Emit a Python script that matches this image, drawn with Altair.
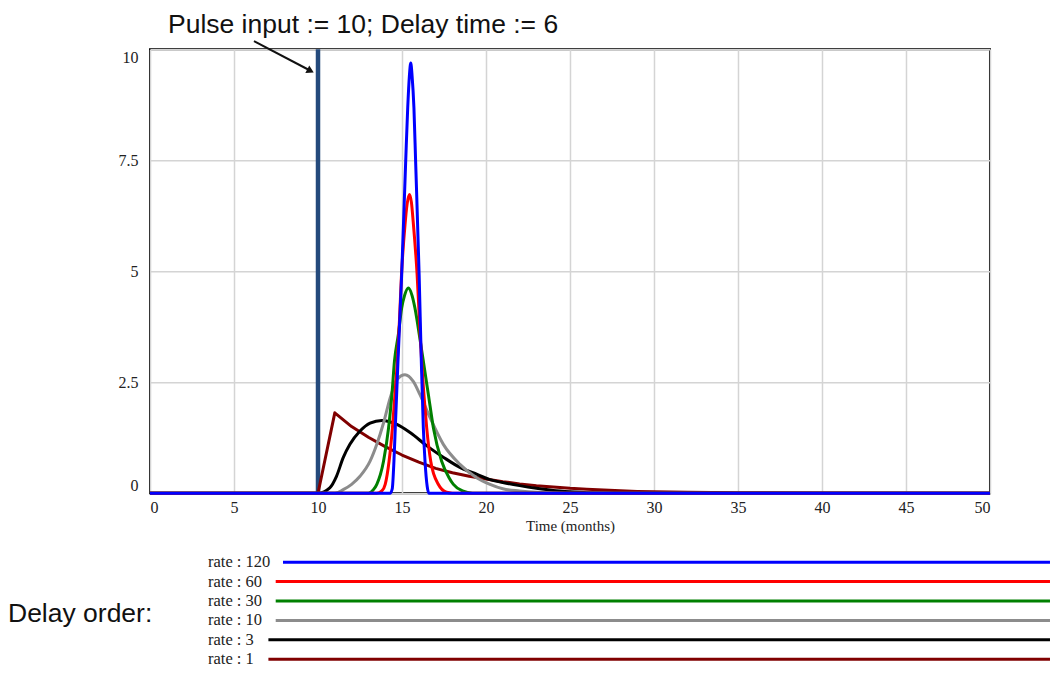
import altair as alt
import pandas as pd

# ---------------- data ----------------
series_names = ["rate : 1", "rate : 3", "rate : 10", "rate : 30", "rate : 60", "rate : 120"]
series_colors = ["#800000", "#000000", "#8c8c8c", "#008000", "#ff0000", "#0000ff"]

rate1_t = [0, 10, 11, 12, 13, 14, 15, 16, 17, 18, 19, 20, 21, 22, 23, 24, 25, 26, 27, 28, 29, 30, 32, 35, 40, 50]
rate1_v = [0, 0, 1.81, 1.50, 1.26, 1.05, 0.86, 0.70, 0.56, 0.46, 0.38, 0.32, 0.26, 0.21, 0.17, 0.14, 0.11, 0.09, 0.07, 0.055, 0.04, 0.03, 0.02, 0.01, 0.004, 0]

rate3_t = [0, 10, 10.7, 11.1, 11.5, 11.9, 12.5, 13.1, 13.8, 14.7, 15.5, 16.5, 17.5, 18.5, 19.5, 20.2, 21, 22, 23, 24, 25, 26, 28, 50]
rate3_v = [0, 0, 0.12, 0.38, 0.80, 1.10, 1.40, 1.58, 1.64, 1.55, 1.36, 1.06, 0.80, 0.57, 0.42, 0.31, 0.24, 0.17, 0.11, 0.06, 0.03, 0.01, 0, 0]

rate10_t = [0, 11, 11.5, 12, 12.5, 13.1, 13.5, 13.9, 14.3, 14.7, 15.18, 15.67, 16.07, 16.67, 17.46, 18.45, 19.44, 20.24, 21, 22, 23, 24, 25, 50]
rate10_v = [0, 0, 0.08, 0.2, 0.38, 0.72, 1.10, 1.58, 2.15, 2.56, 2.67, 2.52, 2.22, 1.70, 1.10, 0.65, 0.35, 0.2, 0.1, 0.05, 0.02, 0.01, 0, 0]

rate30_t = [0, 13.0, 13.3, 13.5, 13.9, 14.2, 14.4, 14.55, 14.78, 14.98, 15.15, 15.38, 15.6, 15.77, 16.03, 16.27, 16.57, 16.87, 17.36, 17.8, 18.06, 18.6, 19.2, 50]
rate30_v = [0, 0, 0.08, 0.2, 0.72, 1.47, 2.22, 2.97, 3.57, 4.17, 4.45, 4.62, 4.45, 4.17, 3.57, 2.97, 2.22, 1.47, 0.72, 0.35, 0.2, 0.05, 0, 0]

rate60_t = [0, 13.5, 13.8, 14.0, 14.23, 14.43, 14.58, 14.72, 14.85, 14.97, 15.18, 15.3, 15.44, 15.56, 15.67, 15.9, 16.05, 16.17, 16.33, 16.47, 16.71, 17.16, 17.65, 18, 50]
rate60_v = [0, 0, 0.05, 0.2, 0.72, 1.47, 2.22, 2.97, 3.9, 4.92, 6.05, 6.5, 6.73, 6.55, 6.1, 4.92, 3.8, 2.97, 2.1, 1.47, 0.72, 0.2, 0.02, 0, 0]

rate120_t = [0, 14.3, 14.42, 14.52, 14.6, 14.76, 14.98, 15.22, 15.34, 15.44, 15.52, 15.6, 15.71, 15.81, 16.02, 16.15, 16.27, 16.37, 16.5, 16.6, 50]
rate120_v = [0, 0, 0.1, 0.72, 1.47, 2.97, 4.92, 7.48, 8.68, 9.4, 9.69, 9.4, 8.68, 7.48, 4.92, 2.97, 1.47, 0.72, 0.15, 0, 0]

pulse_time = [10]
pulse_height = [10]

x_ticks = [0, 5, 10, 15, 20, 25, 30, 35, 40, 45, 50]
y_ticks = [0, 2.5, 5, 7.5, 10]

title_text = "Pulse input := 10; Delay time := 6"
legend_title = "Delay order:"
legend_order = ["rate : 120", "rate : 60", "rate : 30", "rate : 10", "rate : 3", "rate : 1"]

# ---------------- layout helpers ----------------
W, H = 840, 444
X_MAX, Y_MAX = 50.0, 10.0


def px_t(px):  # horizontal pixel offset from plot left -> time value
    return px / W * X_MAX


def px_v(py):  # vertical pixel offset from plot top -> value
    return (H - py) / H * Y_MAX


x_scale = alt.Scale(domain=[0, 50], nice=False, zero=False)
y_scale = alt.Scale(domain=[0, 10], nice=False, zero=False)
color_scale = alt.Scale(domain=series_names, range=series_colors)

SERIF = "Liberation Serif"
SANS = "Liberation Sans"

x_axis = alt.Axis(values=x_ticks, title="Time (months)", grid=True, ticks=False, tickSize=0,
                  domain=False, labelFont=SERIF, labelFontSize=16, labelPadding=6,
                  labelColor="#222222", titleFont=SERIF, titleFontSize=15,
                  titleFontWeight="normal", titleColor="#222222", titlePadding=3,
                  gridColor="#d4d4d4", gridWidth=1.5)
y_axis = alt.Axis(values=y_ticks, format=".1~f", title=None, grid=True, ticks=False, tickSize=0,
                  domain=False, labelFont=SERIF, labelFontSize=16, labelPadding=12,
                  labelColor="#222222", labelFlush=True, gridColor="#d4d4d4", gridWidth=1.5)

series_data = {
    "rate : 1": (rate1_t, rate1_v),
    "rate : 3": (rate3_t, rate3_v),
    "rate : 10": (rate10_t, rate10_v),
    "rate : 30": (rate30_t, rate30_v),
    "rate : 60": (rate60_t, rate60_v),
    "rate : 120": (rate120_t, rate120_v),
}

layers = []

# axes / grid carrier
base_df = pd.DataFrame({"time": [0, 50], "value": [0, 0]})
layers.append(
    alt.Chart(base_df).mark_point(opacity=0).encode(
        x=alt.X("time:Q", scale=x_scale, axis=x_axis),
        y=alt.Y("value:Q", scale=y_scale, axis=y_axis),
    )
)

# pulse
pulse_df = pd.DataFrame({"time": pulse_time, "height": pulse_height, "zero": [0] * len(pulse_time)})
layers.append(
    alt.Chart(pulse_df).mark_rule(color="#244a7c", strokeWidth=4.5).encode(
        x=alt.X("time:Q", scale=x_scale),
        y=alt.Y("zero:Q", scale=y_scale),
        y2="height:Q",
    )
)

# curves
for name in series_names:
    t, v = series_data[name]
    df = pd.DataFrame({"time": t, "value": v, "series": name})
    interp = "linear" if name == "rate : 1" else "monotone"
    layers.append(
        alt.Chart(df).mark_line(strokeWidth=3, interpolate=interp, strokeJoin="round").encode(
            x=alt.X("time:Q", scale=x_scale),
            y=alt.Y("value:Q", scale=y_scale),
            color=alt.Color("series:N", scale=color_scale, legend=None),
        )
    )

# annotation title + arrow
title_df = pd.DataFrame({"time": [px_t(18)], "value": [px_v(-16)], "label": [title_text]})
layers.append(
    alt.Chart(title_df).mark_text(align="left", baseline="alphabetic", font=SANS, fontSize=26.5,
                                  color="#111111").encode(
        x=alt.X("time:Q", scale=x_scale),
        y=alt.Y("value:Q", scale=y_scale),
        text="label:N",
    )
)
arrow_df = pd.DataFrame({"time": [px_t(104)], "value": [px_v(-8)], "t2": [px_t(161)], "v2": [px_v(21.8)]})
layers.append(
    alt.Chart(arrow_df).mark_rule(color="#111111", strokeWidth=2).encode(
        x=alt.X("time:Q", scale=x_scale),
        y=alt.Y("value:Q", scale=y_scale),
        x2="t2:Q", y2="v2:Q",
    )
)
head_df = pd.DataFrame({"time": [px_t(160.5)], "value": [px_v(21.7)]})
layers.append(
    alt.Chart(head_df).mark_point(shape="triangle-up", filled=True, size=70, angle=118,
                                  color="#111111", opacity=1).encode(
        x=alt.X("time:Q", scale=x_scale),
        y=alt.Y("value:Q", scale=y_scale),
    )
)

# legend block under the chart
row_gap = 19.4
first_row = 513
leg_rows = []
for i, name in enumerate(legend_order):
    ypx = first_row + row_gap * i
    leg_rows.append({
        "series": name,
        "label": name,
        "time": px_t(58),
        "ls": px_t(60 + 7.3 * len(name)),
        "le": px_t(900),
        "value": px_v(ypx),
    })
leg_df = pd.DataFrame(leg_rows)

layers.append(
    alt.Chart(leg_df).mark_rule(strokeWidth=3).encode(
        x=alt.X("ls:Q", scale=x_scale),
        x2="le:Q",
        y=alt.Y("value:Q", scale=y_scale),
        color=alt.Color("series:N", scale=color_scale, legend=None),
    )
)
layers.append(
    alt.Chart(leg_df).mark_text(align="left", baseline="middle", font=SERIF, fontSize=16.5,
                                color="#222222").encode(
        x=alt.X("time:Q", scale=x_scale),
        y=alt.Y("value:Q", scale=y_scale),
        text="label:N",
    )
)
lt_df = pd.DataFrame({"time": [px_t(-142)], "value": [px_v(565)], "label": [legend_title]})
layers.append(
    alt.Chart(lt_df).mark_text(align="left", baseline="middle", font=SANS, fontSize=26.5,
                               color="#111111").encode(
        x=alt.X("time:Q", scale=x_scale),
        y=alt.Y("value:Q", scale=y_scale),
        text="label:N",
    )
)

chart = alt.layer(*layers).properties(
    width=W, height=H, background="white",
    padding={"top": 3.2, "left": 0, "right": 0, "bottom": 0},
).configure_view(stroke="#000000", strokeWidth=2)

chart.save("out.html", embed_options={"renderer": "svg", "actions": False})
